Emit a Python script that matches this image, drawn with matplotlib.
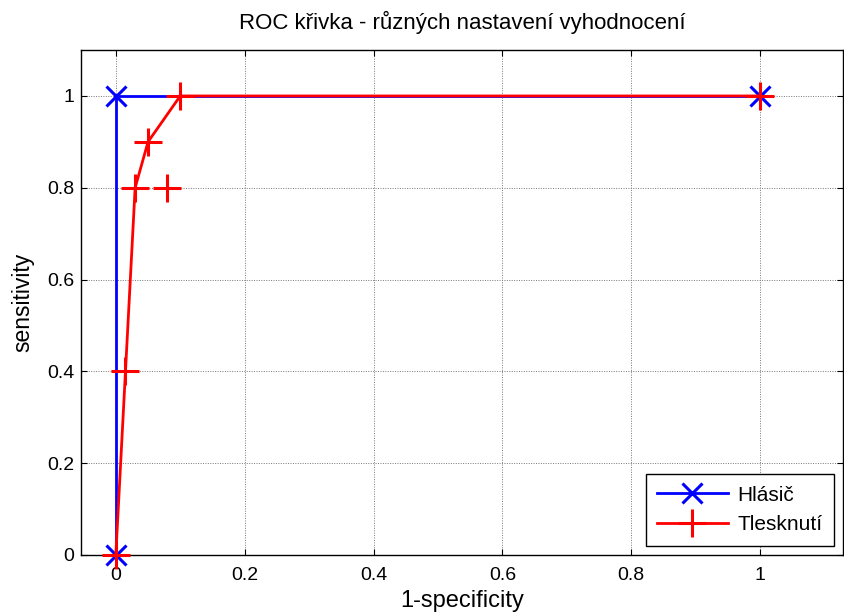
import matplotlib
matplotlib.use("Agg")
import matplotlib.pyplot as plt

hlasic_x = [0, 0, 1]
hlasic_y = [0, 1, 1]
tlesk_x = [0, 0.015, 0.03, 0.05, 0.1, 1]
tlesk_y = [0, 0.4, 0.8, 0.9, 1, 1]
extra_x = [0.08]
extra_y = [0.8]
xticks = [0, 0.2, 0.4, 0.6, 0.8, 1]
xticklabels = ["0", "0.2", "0.4", "0.6", "0.8", "1"]
yticks = [0, 0.2, 0.4, 0.6, 0.8, 1]
yticklabels = ["0", "0.2", "0.4", "0.6", "0.8", "1"]

plt.rcParams['font.family'] = ['Liberation Sans', 'DejaVu Sans']

fig = plt.figure(figsize=(8.44, 6.15), dpi=100)
ax = fig.add_axes([0.096, 0.0976, 0.903, 0.821])

ax.plot(hlasic_x, hlasic_y, color='#0000ff', lw=2, marker='x', ms=14,
        mew=2.2, label='Hlásič', zorder=3, clip_on=False)
ax.plot(tlesk_x, tlesk_y, color='#ff0000', lw=2, marker='+', ms=20,
        mew=2.2, label='Tlesknutí', zorder=4, clip_on=False)
ax.plot(extra_x, extra_y, color='#ff0000', lw=0, marker='+', ms=20,
        mew=2.2, zorder=4, clip_on=False)

ax.set_xlim(-0.054, 1.129)
ax.set_ylim(0, 1.1)
ax.set_xticks(xticks)
ax.set_xticklabels(xticklabels)
ax.set_yticks(yticks)
ax.set_yticklabels(yticklabels)
ax.tick_params(direction='in', top=True, right=True, labelsize=14, length=4)
ax.tick_params(axis='x', pad=9)
ax.tick_params(axis='y', pad=5)
ax.grid(True, color='#777777', linestyle=(0, (1, 1.5)), linewidth=0.7)
for s in ax.spines.values():
    s.set_linewidth(1.0)

ax.set_title('ROC křivka - různých nastavení vyhodnocení', fontsize=16, pad=15)
ax.set_xlabel('1-specificity', fontsize=17, labelpad=4)
ax.set_ylabel('sensitivity', fontsize=16.5, labelpad=9)

leg = ax.legend(loc='lower right', fontsize=15, fancybox=False, framealpha=1,
                edgecolor='black', handlelength=3.4, borderpad=0.55,
                labelspacing=0.5, handletextpad=0.45, borderaxespad=0.45)
leg.get_frame().set_linewidth(1.0)

fig.savefig('out.png', dpi=100)
